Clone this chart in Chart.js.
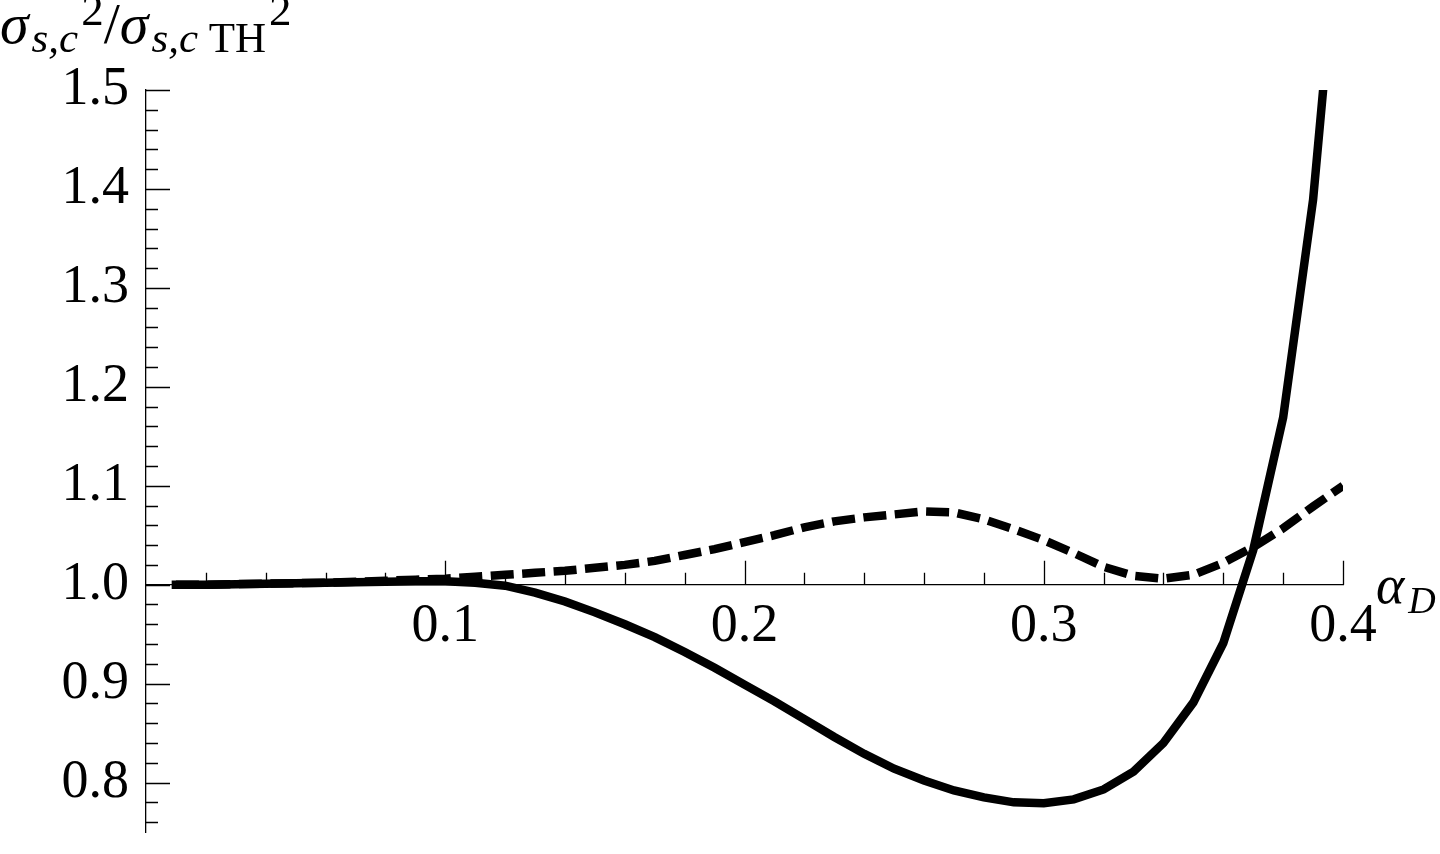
<!DOCTYPE html>
<html>
<head>
<meta charset="utf-8">
<script src="https://cdn.jsdelivr.net/npm/chart.js@4.4.1/dist/chart.umd.min.js"></script>
<style>
  body { margin: 0; background: #fff; }
  #wrap { position: relative; width: 1440px; height: 854px; }
  .lbl { position: absolute; font-family: 'Liberation Serif', serif; color: #000; line-height: 1; white-space: nowrap; }
  .lbl i { font-style: italic; }
  .sub { position: relative; font-style: italic; }
  .sup { position: relative; }
</style>
</head>
<body>
<div id="wrap">
  <canvas id="chart" width="1440" height="854"></canvas>
  <div class="lbl" id="ytitle" style="left:0px; top:-5px; font-size:58px;"><i>σ</i><span class="sub" style="font-size:43px; top:9px; margin-left:3px;">s,c</span><span class="sup" style="font-size:45px; top:-18px; margin-left:3px;">2</span>/<i>σ</i><span class="sub" style="font-size:43px; top:9px; margin-left:3px;">s,c <span style="font-style:normal">TH</span></span><span class="sup" style="font-size:45px; top:-18px; margin-left:3px;">2</span></div>
  <div class="lbl" id="xtitle" style="left:1376px; top:558px; font-size:54px;"><i>α</i><span class="sub" style="font-size:38px; top:10px; margin-left:4px;">D</span></div>
</div>
<script>
// alpha_D sample points
const alphaD = [0.01, 0.02, 0.03, 0.04, 0.05, 0.06, 0.07, 0.08, 0.09, 0.10,
                0.11, 0.12, 0.13, 0.14, 0.15, 0.16, 0.17, 0.18, 0.19, 0.20,
                0.21, 0.22, 0.23, 0.24, 0.25, 0.26, 0.27, 0.28, 0.29, 0.30,
                0.31, 0.32, 0.33, 0.34, 0.35, 0.36, 0.37, 0.38, 0.39, 0.40];

// solid curve
const solidRatio = [1.000, 1.000, 1.0005, 1.001, 1.0015, 1.002, 1.0025, 1.003, 1.0035, 1.0035,
                    1.002, 0.999, 0.992, 0.983, 0.972, 0.960, 0.947, 0.932, 0.916, 0.899,
                    0.882, 0.864, 0.846, 0.829, 0.814, 0.802, 0.792, 0.785, 0.780, 0.779,
                    0.783, 0.793, 0.811, 0.840, 0.881, 0.941, 1.035, 1.169, 1.389, 1.72];

// dashed curve
const dashedRatio = [1.000, 1.000, 1.0005, 1.001, 1.0015, 1.002, 1.003, 1.004, 1.005, 1.006,
                     1.008, 1.010, 1.012, 1.014, 1.017, 1.020, 1.024, 1.030, 1.036, 1.043,
                     1.050, 1.058, 1.064, 1.068, 1.071, 1.074, 1.073, 1.066, 1.056, 1.045,
                     1.032, 1.018, 1.009, 1.006, 1.010, 1.022, 1.038, 1.057, 1.079, 1.100];

const xTickLabels = [0.1, 0.2, 0.3, 0.4];
const yTickLabels = [0.8, 0.9, 1.0, 1.1, 1.2, 1.3, 1.4, 1.5];

const pts = (ys) => alphaD.map((x, i) => ({ x: x, y: ys[i] }));

// Mathematica style ticks: pointing inward, major every 0.1, minor every 0.02
const inwardTicks = {
  id: 'inwardTicks',
  beforeDatasetsDraw(chart) {
    const { ctx, scales: { x, y } } = chart;
    const x0 = x.getPixelForValue(0);
    const y1 = y.getPixelForValue(1);
    ctx.save();
    ctx.strokeStyle = '#000';
    ctx.lineWidth = 1.3;
    ctx.beginPath();
    for (let k = 1; k <= 20; k++) {
      const px = Math.round(x.getPixelForValue(k * 0.02)) + 0.5;
      const len = k % 5 === 0 ? 24 : 12;
      ctx.moveTo(px, y1);
      ctx.lineTo(px, y1 - len);
    }
    for (let k = 38; k <= 75; k++) {
      const py = Math.round(y.getPixelForValue(k * 0.02)) + 0.5;
      const len = k % 5 === 0 ? 24 : 12;
      ctx.moveTo(x0, py);
      ctx.lineTo(x0 + len, py);
    }
    ctx.stroke();
    ctx.restore();
  }
};

// x axis crosses at 1.0, so it should not take layout space
const noSpaceX = (s) => {
  s.paddingTop = 0; s.paddingBottom = 0; s.paddingLeft = 0; s.paddingRight = 0;
  s.height = 0;
};
// y axis keeps a fixed band on the left for its labels
const fixedY = (s) => {
  s.paddingTop = 0; s.paddingBottom = 0; s.paddingLeft = 0; s.paddingRight = 0;
  s.width = 146;
};

const tickFont = { family: "'Liberation Serif', serif", size: 54 };

new Chart(document.getElementById('chart'), {
  type: 'line',
  data: {
    datasets: [
      {
        data: pts(solidRatio),
        borderColor: '#000',
        borderWidth: 8.5,
        borderCapStyle: 'square',
        borderJoinStyle: 'miter',
        pointRadius: 0,
        tension: 0,
        clip: 0
      },
      {
        data: pts(dashedRatio),
        borderColor: '#000',
        borderWidth: 8.5,
        borderDash: [23, 8.5],
        borderCapStyle: 'butt',
        pointRadius: 0,
        tension: 0,
        clip: 0
      }
    ]
  },
  options: {
    responsive: false,
    animation: false,
    layout: { padding: { left: 0, right: 97, top: 90, bottom: 22 } },
    plugins: { legend: { display: false }, tooltip: { enabled: false } },
    scales: {
      x: {
        type: 'linear',
        min: 0,
        max: 0.4,
        position: { y: 1 },
        grid: { display: false, drawTicks: false, tickLength: 0 },
        border: { display: true, color: '#000', width: 1.3 },
        afterBuildTicks: (s) => { s.ticks = xTickLabels.map(v => ({ value: v })); },
        afterFit: noSpaceX,
        ticks: {
          font: tickFont,
          color: '#000',
          padding: 10,
          maxRotation: 0,
          autoSkip: false,
          callback: (v) => v.toFixed(1)
        }
      },
      y: {
        type: 'linear',
        min: 0.75,
        max: 1.5,
        position: 'left',
        grid: { display: false, drawTicks: false, tickLength: 0 },
        border: { display: true, color: '#000', width: 1.3 },
        afterBuildTicks: (s) => { s.ticks = yTickLabels.map(v => ({ value: v })); },
        afterFit: fixedY,
        ticks: {
          font: tickFont,
          color: '#000',
          padding: 17,
          autoSkip: false,
          callback: (v) => v.toFixed(1)
        }
      }
    }
  },
  plugins: [inwardTicks]
});
</script>
</body>
</html>
